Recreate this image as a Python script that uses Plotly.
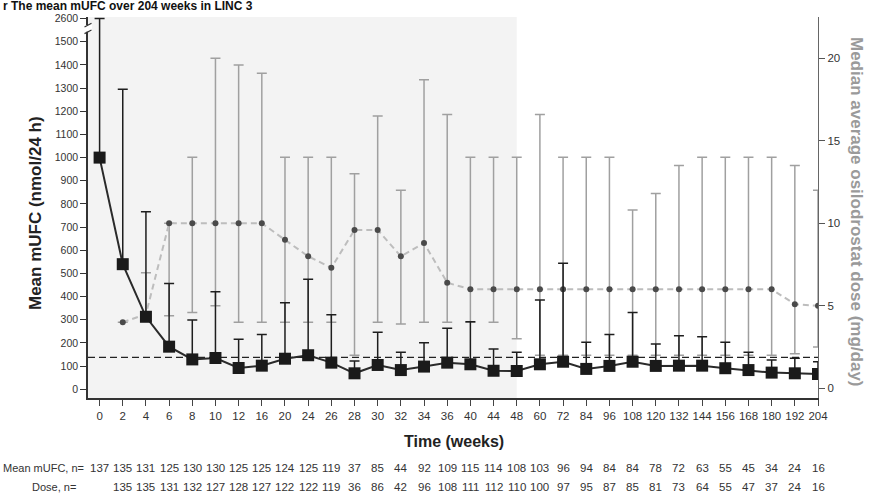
import plotly.graph_objects as go

# ---------------- data ----------------
weeks = [0, 2, 4, 6, 8, 10, 12, 16, 20, 24, 26, 28, 30, 32, 34, 36, 40, 44, 48,
         60, 72, 84, 96, 108, 120, 132, 144, 156, 168, 180, 192, 204]

mufc_mean = [1000, 540, 313, 184, 129, 135, 92, 102, 132, 147, 115, 69, 105, 83, 98, 115,
             108, 80, 79, 108, 119, 88, 101, 119, 101, 102, 102, 91, 83, 72, 69, 66]
mufc_upper = [2600, 1295, 766, 457, 299, 421, 216, 237, 374, 475, 322, 122, 246, 160, 201, 263,
              292, 174, 160, 385, 544, 203, 237, 331, 196, 231, 227, 203, 160, 126, 134, 119]

dose_weeks = weeks[1:]
dose_median = [4.0, 4.5, 10, 10, 10, 10, 10, 9, 8, 7.3,
               9.6, 9.6, 8, 8.8, 6.4, 6, 6, 6, 6, 6,
               6, 6, 6, 6, 6, 6, 6, 6, 6, 5.1,
               5.0]
dose_upper = [4.0, 7.0, 10, 14, 20, 19.6, 19.1, 14, 14, 14,
              13, 16.5, 12, 18.7, 16.6, 14, 14, 14, 16.6, 14,
              14, 14, 10.8, 11.8, 13.5, 14, 14, 14, 14, 13.5,
              12]
dose_lower = [4.0, 4.5, 4.4, 4.6, 5.0, 4, 4, 4, 4, 4,
              2, 4, 3.9, 4, 4, 4, 4, 3, 2, 2,
              2, 2, 2, 2, 2, 2, 2, 2, 2, 2.1,
              2.5]

n_mufc = [137, 135, 131, 125, 130, 130, 125, 125, 124, 125, 119, 37, 85, 44, 92, 109,
          115, 114, 108, 103, 96, 94, 84, 84, 78, 72, 63, 55, 45, 34, 24, 16]
n_dose = [135, 135, 131, 132, 127, 128, 127, 122, 122, 119, 36, 86, 42, 96, 108, 111,
          112, 110, 100, 97, 95, 87, 85, 81, 73, 64, 55, 47, 37, 24, 16]

uln = 138
left_ticks = [0, 100, 200, 300, 400, 500, 600, 700, 800, 900, 1000, 1100, 1200, 1300, 1400, 1500, 2600]
right_ticks = [0, 5, 10, 15, 20]

# ---------------- helpers ----------------
BREAK = 1500.0


def disp(v):
    """map mUFC value to display units with axis break above 1500 (2600 -> 1600)"""
    return v if v <= BREAK else BREAK + (v - BREAK) * 100.0 / 1100.0


def nz(v):
    return v if abs(v) > 1e-9 else None


idx = {w: i for i, w in enumerate(weeks)}
x_m = [idx[w] for w in weeks]
x_d = [idx[w] for w in dose_weeks]

m_plus = [disp(u) - m for u, m in zip(mufc_upper, mufc_mean)]
m_minus = [0 for _ in mufc_mean]
d_plus = [nz(u - m) for u, m in zip(dose_upper, dose_median)]
d_minus = [nz(m - l) for m, l in zip(dose_median, dose_lower)]

W, H = 870, 494
L, R, T, B = 88, 52, 17, 96
pw, ph = W - L - R, H - T - B


def px_x(px):
    return (px - L) / pw


def px_y(py):
    return (H - B - py) / ph


FONT = "Liberation Sans, Arial, sans-serif"

fig = go.Figure()

# dose (right axis, base y)
fig.add_trace(go.Scatter(
    x=x_d, y=dose_median, yaxis="y", mode="lines+markers",
    line=dict(color="#bdbdbd", width=2, dash="6px,4px"),
    marker=dict(color="#4a4a4a", size=6, symbol="circle"),
    error_y=dict(type="data", symmetric=False, array=d_plus, arrayminus=d_minus,
                 color="#a0a0a0", thickness=1.5, width=5),
    showlegend=False, hoverinfo="skip"))

# mUFC (left axis, overlaying)
fig.add_trace(go.Scatter(
    x=x_m, y=mufc_mean, yaxis="y2", mode="lines+markers",
    line=dict(color="#2a2a2a", width=2),
    marker=dict(color="#1a1a1a", size=12, symbol="square"),
    error_y=dict(type="data", symmetric=False, array=m_plus, arrayminus=m_minus,
                 color="#1e1e1e", thickness=1.5, width=5),
    showlegend=False, hoverinfo="skip"))

shapes = []
shapes.append(dict(type="rect", xref="x", yref="paper", x0=-0.5, x1=idx[48], y0=0, y1=1,
                   fillcolor="#f3f3f3", line=dict(width=0), layer="below"))
shapes.append(dict(type="line", xref="x", yref="y2", x0=-0.5, x1=len(weeks) - 1, y0=uln, y1=uln,
                   line=dict(color="#222222", width=1.2, dash="7px,4px"), layer="below"))
shapes.append(dict(type="rect", xref="paper", yref="y2", x0=px_x(84), x1=px_x(92), y0=1543, y1=1572,
                   fillcolor="white", line=dict(width=0), layer="above"))
for yb in (1543, 1572):
    shapes.append(dict(type="line", xref="paper", yref="y2", x0=px_x(84.5), x1=px_x(91.5),
                       y0=yb - 8, y1=yb + 8, line=dict(color="#333", width=1.2), layer="above"))

annotations = []
annotations.append(dict(text="<b>r The mean mUFC over 204 weeks in LINC 3</b>", xref="paper", yref="paper",
                        x=px_x(2), y=px_y(6), xanchor="left", yanchor="middle", showarrow=False,
                        borderpad=0, font=dict(family=FONT, size=12, color="#111")))
annotations.append(dict(text="<b>Mean mUFC (nmol/24 h)</b>", xref="paper", yref="paper",
                        x=px_x(35), y=px_y(213), xanchor="center", yanchor="middle",
                        textangle=-90, showarrow=False,
                        font=dict(family=FONT, size=17, color="#222")))
annotations.append(dict(text="<b>Median average osilodrostat dose (mg/day)</b>", xref="paper", yref="paper",
                        x=px_x(857), y=px_y(212), xanchor="center", yanchor="middle",
                        textangle=90, showarrow=False,
                        font=dict(family=FONT, size=17, color="#9a9a9a")))
annotations.append(dict(text="<b>Time (weeks)</b>", xref="paper", yref="paper",
                        x=px_x(454), y=px_y(441), xanchor="center", yanchor="middle", showarrow=False,
                        font=dict(family=FONT, size=16, color="#222")))
annotations.append(dict(text="Mean mUFC, n=", xref="paper", yref="paper", x=px_x(86), y=px_y(468),
                        xanchor="right", yanchor="middle", showarrow=False,
                        font=dict(family=FONT, size=11, color="#333")))
annotations.append(dict(text="Dose, n=", xref="paper", yref="paper", x=px_x(78), y=px_y(487),
                        xanchor="right", yanchor="middle", showarrow=False,
                        font=dict(family=FONT, size=11, color="#333")))
for i, n in enumerate(n_mufc):
    annotations.append(dict(text=str(n), xref="x", yref="paper", x=i, y=px_y(468),
                            xanchor="center", yanchor="middle", showarrow=False,
                            font=dict(family=FONT, size=11.5, color="#333")))
for w, n in zip(dose_weeks, n_dose):
    annotations.append(dict(text=str(n), xref="x", yref="paper", x=idx[w], y=px_y(487),
                            xanchor="center", yanchor="middle", showarrow=False,
                            font=dict(family=FONT, size=11.5, color="#333")))

bottom_px, top_px = H - B, T
l_range = [(389.3 - bottom_px) / 0.2317, (389.3 - top_px) / 0.2317]
r_range = [(388.3 - bottom_px) / 16.5, (388.3 - top_px) / 16.5]

fig.update_layout(
    width=W, height=H,
    margin=dict(l=L, r=R, t=T, b=B, autoexpand=False),
    paper_bgcolor="white", plot_bgcolor="white",
    font=dict(family=FONT, size=11, color="#333"),
    xaxis=dict(range=[-0.5, len(weeks) - 1], tickmode="array", tickvals=list(range(len(weeks))),
               ticktext=[str(w) for w in weeks], ticks="outside", ticklen=6, tickcolor="#444",
               showline=True, linecolor="#333", linewidth=1.5, showgrid=False, zeroline=False,
               automargin=False, tickfont=dict(family=FONT, size=11.5, color="#333")),
    yaxis=dict(side="right", anchor="x", range=r_range, tickmode="array", tickvals=right_ticks,
               ticks="outside", ticklen=6, tickcolor="#555", showline=True, linecolor="#666",
               linewidth=1.2, showgrid=False, zeroline=False, automargin=False,
               tickfont=dict(family=FONT, size=11.5, color="#333")),
    yaxis2=dict(side="left", overlaying="y", anchor="x", range=l_range, tickmode="array",
                tickvals=[disp(v) for v in left_ticks], ticktext=[str(v) for v in left_ticks],
                ticks="outside", ticklen=6, tickcolor="#333", showline=True, linecolor="#333",
                linewidth=1.5, showgrid=False, zeroline=False, automargin=False,
                tickfont=dict(family=FONT, size=10.5, color="#333")),
    shapes=shapes, annotations=annotations,
)

fig.write_html("out.html", config={"displayModeBar": False},
               post_script="document.body.style.margin='0px';")
